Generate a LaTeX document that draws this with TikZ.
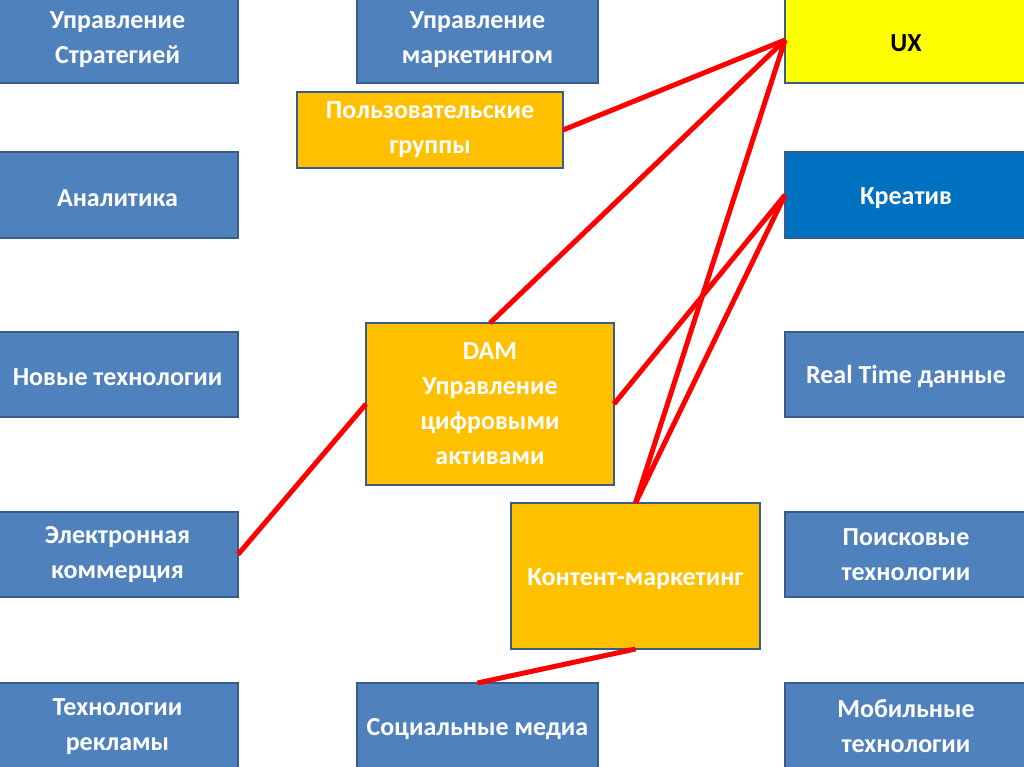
\documentclass[tikz,border=0pt]{standalone}
\usepackage{fontspec}
\setmainfont{Carlito}
\usepackage{tikz}

\definecolor{boxblue}{HTML}{4F81BD}
\definecolor{boxedge}{HTML}{385D8A}
\definecolor{boxorange}{HTML}{FFC000}
\definecolor{boxyellow}{HTML}{FFFF00}
\definecolor{boxdeep}{HTML}{0070C0}

\begin{document}
\begin{tikzpicture}[x=1pt,y=-1pt]
      \tikzset{topic/.style={draw=boxedge,
          line width=1.5pt,
          fill=#1,
          text=white,
          inner sep=0pt,
          outer sep=0pt,
          align=center,
          execute at begin node={\rule{0pt}{23pt}},
          font=\fontsize{26}{35}\selectfont\bfseries},
        topic/.default=boxblue,
        link/.style={red,line width=5pt}
      }
      \useasboundingbox [fill=white] (0,0) rectangle (1024,767);

      % left column
      \node [topic,minimum width=241pt,minimum height=86pt] (strat) at (117.5,40) {Управление\\Стратегией};
      \node [topic,minimum width=241pt,minimum height=86pt] (analyt) at (117.5,195) {Аналитика};
      \node [topic,minimum width=241pt,minimum height=85pt] (newtech) at (117.5,374.5) {Новые технологии};
      \node [topic,minimum width=241pt,minimum height=85pt] (ecom) at (117.5,554.5) {Электронная\\коммерция};
      \node [topic,minimum width=241pt,minimum height=87pt] (adtech) at (117.5,726.5) {Технологии\\рекламы};

      % middle column
      \node [topic,minimum width=241pt,minimum height=86pt] (mkt) at (477.5,40) {Управление\\маркетингом};
      \node [topic=boxorange,minimum width=266pt,minimum height=76pt] (groups) at (430,130) {Пользовательские\\группы};
      \node [topic=boxorange,minimum width=248pt,minimum height=162pt] (dam) at (490,404) {DAM\\Управление\\цифровыми\\активами};
      \node [topic=boxorange,minimum width=249pt,minimum height=146pt] (content) at (635.5,576) {Контент-маркетинг};
      \node [topic,minimum width=241pt,minimum height=87pt] (social) at (477.5,726.5) {Социальные медиа};

      % right column
      \node [topic=boxyellow,text=black,minimum width=242pt,minimum height=86pt] (ux) at (906,40) {UX};
      \node [topic=boxdeep,minimum width=242pt,minimum height=86pt] (creative) at (906,195) {Креатив};
      \node [topic,minimum width=242pt,minimum height=85pt] (realtime) at (906,374.5) {Real Time данные};
      \node [topic,minimum width=242pt,minimum height=85pt] (search) at (906,554.5) {Поисковые\\технологии};
      \node [topic,minimum width=242pt,minimum height=87pt] (mobile) at (906,726.5) {Мобильные\\технологии};

      \draw [link] (groups.east) -- (ux.west);
      \draw [link] (dam.north) -- (ux.west);
      \draw [link] (content.north) -- (ux.west);
      \draw [link] (content.north) -- (creative.west);
      \draw [link] (dam.east) -- (creative.west);
      \draw [link] (ecom.east) -- (dam.west);
      \draw [link] (content.south) -- (social.north);
    \end{tikzpicture}
\end{document}
